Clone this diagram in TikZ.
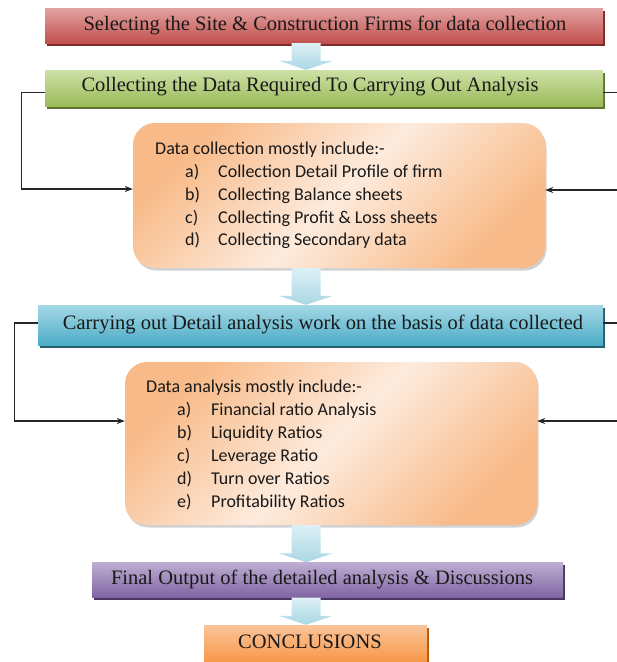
\documentclass[tikz,border=0pt]{standalone}
\usepackage{fontspec}
\setmainfont{Liberation Serif}
\newfontfamily\bodysans{Carlito}
\usetikzlibrary{calc,arrows.meta}
\definecolor{redA}{HTML}{E3A3A1}\definecolor{redB}{HTML}{C0504D}\definecolor{redS}{HTML}{7F2A28}
\definecolor{grnA}{HTML}{CDE0A6}\definecolor{grnB}{HTML}{9BBB59}\definecolor{grnS}{HTML}{5E7530}
\definecolor{bluA}{HTML}{A5D8E6}\definecolor{bluB}{HTML}{4BACC6}\definecolor{bluS}{HTML}{245F70}
\definecolor{purA}{HTML}{BDAED2}\definecolor{purB}{HTML}{8064A2}\definecolor{purS}{HTML}{4A3763}
\definecolor{orgA}{HTML}{FBC59A}\definecolor{orgB}{HTML}{F79646}\definecolor{orgS}{HTML}{B65708}
\definecolor{peachD}{HTML}{F8BA88}\definecolor{peachL}{HTML}{FDEBDD}
\definecolor{arrA}{HTML}{DDF0F5}\definecolor{arrB}{HTML}{A9D7E4}
\tikzset{
  flowbox/.style n args={3}{rectangle, inner sep=0pt, minimum width=#1, minimum height=#2},
  tint/.style n args={3}{top color=#1, bottom color=#2,
     preaction={fill=#3, transform canvas={shift={(1.5,2.5)}}}},
  titletext/.style={font=\fontsize{20.5}{23}\selectfont, text=black!90, inner sep=0pt},
  softbox/.style={rectangle, rounded corners=22pt, inner sep=0pt,
     top color=peachD, bottom color=peachD, middle color=peachL, shading angle=45,
     preaction={fill=black!18, transform canvas={shift={(1.5,2.5)}}}},
  itemtext/.style={font=\bodysans\fontsize{18}{20}\selectfont, anchor=base west, inner sep=0pt, text=black!90},
  conn/.style={draw=black!85, line width=1.2pt, -{Stealth[length=8pt,width=6pt]}},
  blockarrow/.style={top color=arrA, bottom color=arrB, draw=none}
}
\newcommand{\barrow}[2]{%
  \path[blockarrow] let \p1=(#1.south), \p2=(#2.north) in
    (291.5pt,\y1) -- (320.5pt,\y1) -- (320.5pt,\y2+9pt) -- (333pt,\y2+9pt) -- (306pt,\y2) --
    (279pt,\y2+9pt) -- (291.5pt,\y2+9pt) -- cycle;}
\begin{document}
\begin{tikzpicture}[x=1pt,y=-1pt]
\useasboundingbox (0,0) rectangle (617,662);
\fill[white] (0,0) rectangle (617,662);
% boxes
\node[flowbox={558pt}{35pt}{}, tint={redA}{redB}{redS}] (red) at (324,25.5) {};
\node[flowbox={558pt}{36pt}{}, tint={grnA}{grnB}{grnS}] (green) at (324,88) {};
\node[softbox, minimum width=412pt, minimum height=145pt] (ob1) at (339,195.5) {};
\node[flowbox={565pt}{40pt}{}, tint={bluA}{bluB}{bluS}] (blue) at (320.5,325) {};
\node[softbox, minimum width=412pt, minimum height=163pt] (ob2) at (331,443.5) {};
\node[flowbox={471pt}{35pt}{}, tint={purA}{purB}{purS}] (purple) at (327.5,580) {};
\node[flowbox={223pt}{38pt}{}, tint={orgA}{orgB}{orgS}] (conc) at (315.5,644) {};
% block arrows
\barrow{red}{green}
\barrow{ob1}{blue}
\barrow{ob2}{purple}
\barrow{purple}{conc}
% titles
\node[titletext] (tred) at (325,25) {Selecting the Site \& Construction Firms for data collection};
\node[titletext] (tgreen) at (310,87) {Collecting the Data Required To Carrying Out Analysis};
\node[titletext] (tblue) at (323,324) {Carrying out Detail analysis work on the basis of data collected};
\node[titletext] (tpurple) at (322,579) {Final Output of the detailed analysis \& Discussions};
\node[titletext] (tconc) at (310,642) {CONCLUSIONS};
% box 1 text
\node[itemtext] (c0) at (155,154) {Data collection mostly include:-};
\node[itemtext] (c1) at (185,177.5) {\makebox[33pt][l]{a)}Collection Detail Profile of firm};
\node[itemtext] (c2) at (185,200.5) {\makebox[33pt][l]{b)}Collecting Balance sheets};
\node[itemtext] (c3) at (185,223.5) {\makebox[33pt][l]{c)}Collecting Profit \& Loss sheets};
\node[itemtext] (c4) at (185,245) {\makebox[33pt][l]{d)}Collecting Secondary data};
% box 2 text
\node[itemtext] (d0) at (146,392.5) {Data analysis mostly include:-};
\node[itemtext] (d1) at (177,415.5) {\makebox[34pt][l]{a)}Financial ratio Analysis};
\node[itemtext] (d2) at (177,438.5) {\makebox[34pt][l]{b)}Liquidity Ratios};
\node[itemtext] (d3) at (177,461.5) {\makebox[34pt][l]{c)}Leverage Ratio};
\node[itemtext] (d4) at (177,484.5) {\makebox[34pt][l]{d)}Turn over Ratios};
\node[itemtext] (d5) at (177,507.5) {\makebox[34pt][l]{e)}Profitability Ratios};
% connectors
\draw[conn] ([yshift=-4.5pt]green.west) -- ++(-23,0) |- ([yshift=6.5pt]ob1.west);
\draw[conn] ([yshift=-4.5pt]green.east) -- ++(30,0) |- ([yshift=5.5pt]ob1.east);
\draw[conn] ([yshift=2pt]blue.west) -- ++(-23.5,0) |- ([yshift=22.5pt]ob2.west);
\draw[conn] ([yshift=2pt]blue.east) -- ++(30,0) |- ([yshift=22.5pt]ob2.east);
\end{tikzpicture}
\end{document}
